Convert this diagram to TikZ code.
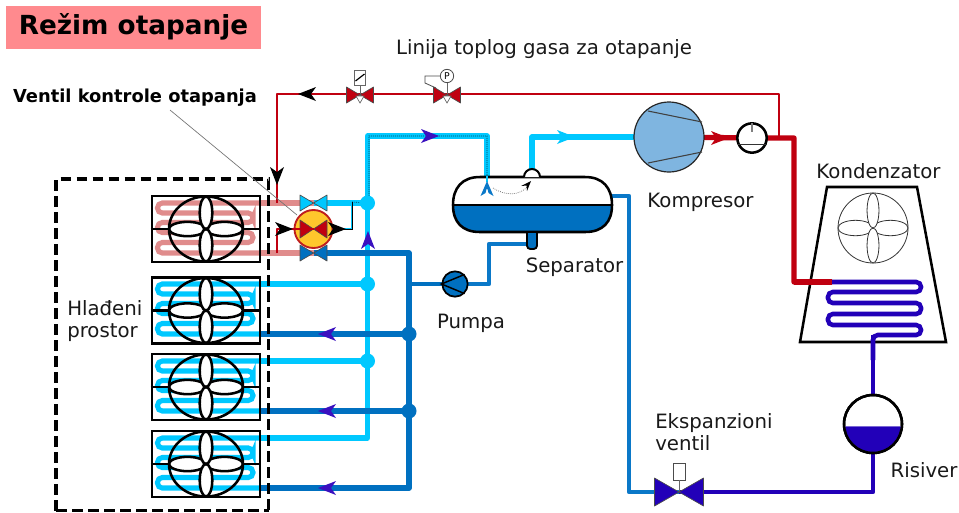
\documentclass[tikz,border=0pt]{standalone}
\usepackage{fontspec}
\setmainfont{DejaVu Sans}
\definecolor{titlebg}{HTML}{FF8A8E}
\definecolor{hot}{HTML}{C00010}
\definecolor{salmon}{HTML}{E08C8C}
\definecolor{cyanp}{HTML}{00C8FF}
\definecolor{bluep}{HTML}{0070C0}
\definecolor{sepblue}{HTML}{0A78C8}
\definecolor{deepb}{HTML}{2200B8}
\definecolor{compb}{HTML}{7FB5E0}
\definecolor{goldv}{HTML}{FFC72C}
\definecolor{arrowb}{HTML}{3A10C0}
\tikzset{
  lab/.style={font=\fontsize{14.8}{17}\selectfont,text=black!90,inner sep=0pt},
  hotthin/.style={draw=hot,line width=2.2pt,line join=round},
  hotthick/.style={draw=hot,line width=4pt,line join=round},
  cyanpipe/.style={draw=cyanp,line width=4pt,line join=round},
  bluepipe/.style={draw=bluep,line width=4pt,line join=round},
  seppipe/.style={draw=sepblue,line width=3.2pt,line join=round},
  deeppipe/.style={draw=deepb,line width=3.4pt,line join=round},
  salmonpipe/.style={draw=salmon,line width=3.8pt},
  coil/.style={line width=3.8pt,rounded corners=3.6pt},
  deepcoil/.style={draw=deepb,line width=3.4pt,rounded corners=3.6pt},
  junction/.style={circle,inner sep=0pt,minimum size=11.5pt},
  leader/.style={draw=black!55,line width=0.5pt},
}
% evaporator unit: #1 name, #2 top y, #3 coil colour
\newcommand{\evapcoil}[3]{%
  \coordinate (#1in) at (260,#2+7);
  \coordinate (#1out) at (260,#2+57);
  \draw[coil,draw=#3] (#1in) -- (157.5,#2+7) -- (157.5,#2+17) -- (253,#2+17) -- (253,#2+26.5) -- (157.5,#2+26.5) -- (157.5,#2+36.5) -- (253,#2+36.5) -- (253,#2+46.5) -- (157.5,#2+46.5) -- (157.5,#2+57) -- (#1out);
}
\newcommand{\fanblades}[6]{% cx cy rx ry lw colour
  \begin{scope}[shift={(#1,#2)},line width=#5,draw=#6]
    \draw (0,0) circle[x radius=#3,y radius=#4];
    \draw[fill=white] (#3*.5,0) circle[x radius=#3*.5,y radius=#4*.22];
    \draw[fill=white] (-#3*.5,0) circle[x radius=#3*.5,y radius=#4*.22];
    \draw[fill=white] (0,#4*.5) circle[x radius=#3*.17,y radius=#4*.5];
    \draw[fill=white] (0,-#4*.5) circle[x radius=#3*.17,y radius=#4*.5];
  \end{scope}
}
\newcommand{\evapbox}[2]{% name, top y
  \node[draw=black,line width=1.9pt,inner sep=0pt,minimum width=81pt,minimum height=49.5pt] (#1) at (206,#2+33) {};
  \draw[black,line width=1.9pt] (#1.west) -- (#1.east);
  \fanblades{206}{#2+33}{37}{32.5}{1.9pt}{black}
}
% valve: name, x, y, half width, half height, fill
\newcommand{\valve}[6]{%
  \coordinate (#1) at (#2,#3);
  \draw[fill=#6,draw=black!70,line width=0.5pt,line join=round]
    (#2,#3) -- (#2-#4,#3-#5) -- (#2-#4,#3+#5) -- cycle
    (#2,#3) -- (#2+#4,#3-#5) -- (#2+#4,#3+#5) -- cycle;
}
% flow arrow: x, y, angle, colour
\newcommand{\flow}[4]{%
  \fill[#4,shift={(#1,#2)},rotate=#3] (9,0) -- (-9,-7) -- (-4,0) -- (-9,7) -- cycle;
}
\begin{document}
\begin{tikzpicture}[x=0.75pt,y=-0.75pt]
\useasboundingbox (0,0) rectangle (959,512);
\fill[white] (0,0) rectangle (959,512);

% ---- named points of the piping
\coordinate (hgTR) at (779,94);
\coordinate (hgTL) at (277,94);
\coordinate (hgJ) at (779,138);
\coordinate (hgS) at (277,203);
\coordinate (ctrlIn) at (277,253);
\coordinate (ctrlC) at (277,229);
\coordinate (camTL) at (367.5,136);
\coordinate (camTR) at (487,136);
\coordinate (sepIn) at (487,178);
\coordinate (suct) at (532,137);
\coordinate (dome) at (532,172);
\coordinate (hotA) at (794,138);
\coordinate (hotB) at (794,282);
\coordinate (condIn) at (832,282);
\coordinate (condOut) at (873,335);
\coordinate (liqA) at (873,492);
\coordinate (sepOut) at (612,196);
\coordinate (sepC) at (629,196);
\coordinate (sepD) at (629,492);
\coordinate (wetB) at (367.5,438);
\coordinate (cB1) at (409,253);
\coordinate (cB2) at (409,488);
\coordinate (pumpJ) at (409,284);
\coordinate (pA) at (489,284);
\coordinate (pB) at (489,244);
\coordinate (pC) at (532,244);
\coordinate (ctrlA) at (352,229);
\coordinate (ctrlB) at (352,202);
\coordinate (leadA) at (170,110);

% ---- title
\node[fill=titlebg,minimum width=191.25pt,minimum height=32.25pt,inner sep=0pt,font=\fontsize{19.7}{22}\bfseries\selectfont] (title) at (133.5,27) {Režim otapanje};
\node[lab] (hgl) at (544,49) {Linija toplog gasa za otapanje};
\node[font=\fontsize{13.4}{15}\bfseries\selectfont,inner sep=0pt] (vko) at (135,98) {Ventil kontrole otapanja};

% ---- coils
\evapcoil{uA}{196}{salmon}
\evapcoil{uB}{277}{cyanp}
\evapcoil{uC}{354}{cyanp}
\evapcoil{uD}{431}{cyanp}

% ---- equipment anchors
\coordinate (vCy) at (313.5,203);
\coordinate (vBl) at (313.5,253);
\coordinate (vCt) at (313.5,229);
\coordinate (vSol) at (360,95);
\coordinate (vP) at (447,95);
\coordinate (vExp) at (679,492);
\node[junction] (jA) at (367.5,203) {};
\node[junction] (jB) at (367.5,284) {};
\node[junction] (jC) at (367.5,361) {};
\node[junction] (jD) at (409,334) {};
\node[junction] (jE) at (409,411) {};
\coordinate (compC) at (669,137);
\coordinate (gaugeC) at (752,138);
\coordinate (pumpC) at (455,284);
\coordinate (recC) at (873,424);

% ---- pipes
\draw[salmonpipe] (uAin) -- (vCy);
\draw[salmonpipe] (uAout) -- (vBl);
\draw[cyanpipe] (uBin) -- (jB.center);
\draw[cyanpipe] (uCin) -- (jC.center);
\draw[cyanpipe] (uDin) -- (wetB) -- (camTL) -- (camTR) -- (sepIn);
\draw[cyanpipe] (vCy) -- (jA.center);
\draw[bluepipe] (vBl) -- (cB1) -- (cB2) -- (uDout);
\draw[bluepipe] (uBout) -- (jD.center);
\draw[bluepipe] (uCout) -- (jE.center);
\draw[bluepipe,line width=3.2pt] (pumpJ) -- (pumpC);
\draw[seppipe] (pumpC) -- (pA) -- (pB) -- (pC);
\draw[cyanpipe] (dome) -- (suct) -- (compC);
\draw[hotthin] (hgJ) -- (hgTR) -- (hgTL) -- (hgS);
\draw[hotthin] (ctrlIn) -- (ctrlC) -- (vCt);
\draw[hotthick] (compC) -- (gaugeC) -- (hotA) -- (hotB) -- (condIn);
\draw[seppipe] (sepOut) -- (sepC) -- (sepD) -- (vExp);
\draw[deeppipe] (condOut) -- (liqA) -- (vExp);
% thin inner lines
\draw[cyanp,line width=2pt] (vCt) -- (ctrlA) -- (ctrlB);
\draw[black,line width=0.4pt] (vCt) -- (ctrlA) -- (ctrlB);
\draw[black,line width=0.5pt,densely dotted] (ctrlB) -- (369,203) -- (369,136) -- (camTR) -- (sepIn);

% ---- junction dots
\fill[cyanp] (jA) circle[radius=7.5];
\fill[cyanp] (jB) circle[radius=7.5];
\fill[cyanp] (jC) circle[radius=7.5];
\fill[bluep] (jD) circle[radius=7.5];
\fill[bluep] (jE) circle[radius=7.5];

% ---- evaporators
\evapbox{evA}{196}
\evapbox{evB}{277.5}
\evapbox{evC}{354}
\evapbox{evD}{431}

% ---- dashed room
\draw[black,line width=2.6pt,dash pattern=on 8pt off 4pt] (56,510.5) -- (56,179) -- (268.5,179) -- (268.5,512);
\draw[black,line width=2.6pt,dash pattern=on 8pt off 4pt] (56,510.5) -- (268.5,510.5);
\node[lab,align=left,anchor=west] (room) at (67,321) {Hlađeni\\prostor};

% ---- control valves
\draw[leader] (leadA) -- (297,215);
\valve{vCyV}{313.5}{203}{13.5}{8}{cyanp}
\valve{vBlV}{313.5}{253}{13.5}{8}{bluep}
\node[circle,draw={rgb,255:red,190;green,30;blue,30},fill=goldv,line width=1.4pt,minimum size=28.5pt,inner sep=0pt] (ctrl) at (vCt) {};
\valve{vCtV}{313.5}{229}{13.5}{9}{hot}
\draw[hot,line width=1.5pt] (ctrlC) -- (vCtV);

% ---- hot gas valves
\draw[black!60,line width=0.6pt,fill=white] (354.5,70) rectangle (365.5,85);
\draw[black,line width=0.9pt] (355.5,81) -- (364.5,74);
\draw[black!60,line width=0.6pt] (360,85) -- (360,95);
\valve{vSolV}{360}{95}{13.5}{8}{hot}
\draw[black!60,line width=0.5pt,fill=white] (356,96) -- (364,96) -- (360,103) -- cycle;
\node[circle,draw=black!70,fill=white,line width=0.6pt,minimum size=10pt,inner sep=0pt,font=\fontsize{7}{8}\selectfont] (pg) at (447,76) {P};
\draw[black!70,line width=0.6pt] (pg.west) -- (425,76) -- (425,83) -- (436,88);
\draw[black!60,line width=0.6pt] (pg.south) -- (447,95);
\valve{vPV}{447}{95}{13.5}{8}{hot}
\draw[black!60,line width=0.5pt,fill=white] (443,96) -- (451,96) -- (447,103) -- cycle;

% ---- pump
\node[circle,draw=black,fill=bluep,line width=1.3pt,minimum size=19pt,inner sep=0pt] (pump) at (pumpC) {};
\draw[black,line width=1.1pt] (pump.north east) -- (pump.west) -- (pump.south east);

% ---- separator
\begin{scope}
\path[save path=\sepath] (453,205) .. controls (453,188) and (462,177) .. (480,177) -- (585,177) .. controls (603,177) and (612,188) .. (612,205) .. controls (612,222) and (603,232) .. (585,232) -- (480,232) .. controls (462,232) and (453,222) .. (453,205) -- cycle;
\fill[white,use path=\sepath];
\begin{scope}
\clip[use path=\sepath];
\fill[bluep] (450,205) rectangle (615,235);
\end{scope}
\draw[black,line width=1.9pt,use path=\sepath];
\draw[black,line width=1.9pt] (453,205) -- (612,205);
\end{scope}
\node[minimum width=118pt,minimum height=40pt,inner sep=0pt] (sep) at (532.5,204.5) {};
\draw[black,line width=1.4pt,fill=bluep,rounded corners=2.5pt] (527,233) -- (527,249) -- (537,249) -- (537,233);
\draw[black,line width=1.5pt,fill=white] (524,177) arc[start angle=180,end angle=360,radius=8];
% flow inside separator
\draw[cyanp,line width=1.5pt] (487,176) -- (487,182);
\fill[sepblue] (487,181) -- (480.5,196) -- (485.5,193) -- (486.5,189) -- (487.5,189) -- (488.5,193) -- (493.5,196) -- cycle;
\draw[black!70,line width=0.5pt,densely dotted] (493,188) .. controls (505,196) and (520,196) .. (528,186);
\fill[black] (531,181) -- (527,191) -- (526.5,185.5) -- (521,186) -- cycle;

% ---- compressor
\node[circle,draw=black!85,fill=compb,line width=0.9pt,minimum size=52.5pt,inner sep=0pt] (comp) at (compC) {};
\draw[black!75,line width=0.8pt] (648,111) -- (702,122);
\draw[black!75,line width=0.8pt] (648,163) -- (702,152);
% ---- pressure gauge
\node[circle,draw=black,fill=white,line width=1.9pt,minimum size=22pt,inner sep=0pt] (gauge) at (gaugeC) {};
\draw[black!80,line width=0.6pt] (737.5,144) -- (766.5,144);
\draw[black!50,line width=0.9pt] (752,123) -- (752,132);

% ---- condenser
\node[draw=none,minimum width=90pt,minimum height=100pt,inner sep=0pt] (cond) at (873,265) {};
\draw[black,line width=1.9pt,line join=miter] (827,187) -- (917,187) -- (946,342) -- (800,342) -- cycle;
\fanblades{873}{228}{35}{35}{0.6pt}{black!80}
\draw[hotthick] (hotB) -- (condIn);
\draw[deepcoil] (condIn) -- (921,282) -- (921,292) -- (828,292) -- (828,303) -- (921,303) -- (921,314) -- (828,314) -- (828,325) -- (921,325) -- (921,335) -- (condOut) -- (873,360);

% ---- receiver
\node[circle,draw=black,fill=white,line width=1.9pt,minimum size=43.5pt,inner sep=0pt] (rec) at (recC) {};
\begin{scope}
\clip (recC) circle[radius=28];
\fill[deepb] (840,427) rectangle (905,456);
\end{scope}
\draw[deepb!60,line width=0.4pt] (845,426.5) -- (901,426.5);
\draw[black,line width=1.9pt] (recC) circle[radius=29];

% ---- expansion valve
\draw[black!70,line width=0.6pt,fill=white] (673,463) rectangle (685,480);
\draw[black!60,line width=0.5pt] (679,480) -- (679,492);
\valve{vExpV}{679}{492}{24.5}{14}{deepb}

% ---- flow arrows
\flow{307}{94}{180}{black}
\flow{277}{176}{270}{black}
\flow{284}{229}{0}{black}
\flow{337}{229}{0}{black}
\flow{368}{240}{90}{arrowb}
\flow{430}{136}{0}{arrowb}
\flow{566}{137}{0}{cyanp}
\flow{720}{138}{0}{hot}
\flow{327}{334}{180}{arrowb}
\flow{327}{411}{180}{arrowb}
\flow{327}{488}{180}{arrowb}

% ---- labels
\node[lab] (lk) at (878.5,171) {Kondenzator};
\node[lab] (lko) at (700.5,202) {Kompresor};
\node[lab] (ls) at (574.5,267) {Separator};
\node[lab] (lp) at (471,323) {Pumpa};
\node[lab,align=left,anchor=west] (le) at (655,432) {Ekspanzioni\\ventil};
\node[lab] (lr) at (924,470) {Risiver};
\end{tikzpicture}
\end{document}
